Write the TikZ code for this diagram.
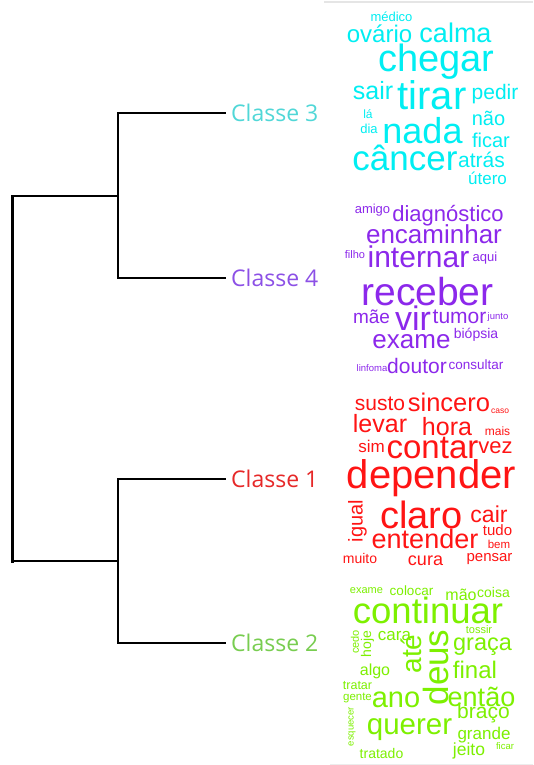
\documentclass[tikz,border=0pt]{standalone}
\usepackage{fontspec}
\setmainfont{Liberation Sans}
\newfontfamily\osans{Open Sans}
\definecolor{cyw}{RGB}{0,238,242}
\definecolor{puw}{RGB}{140,40,235}
\definecolor{rdw}{RGB}{255,20,20}
\definecolor{grw}{RGB}{125,240,0}
\definecolor{cyl}{RGB}{80,215,215}
\definecolor{pul}{RGB}{140,80,230}
\definecolor{rdl}{RGB}{230,40,40}
\definecolor{grl}{RGB}{120,205,80}
\tikzset{
  wc/.style={font=\fontsize{#1}{#1}\selectfont, inner sep=0pt, anchor=base},
  rw/.style={font=\fontsize{#1}{#1}\selectfont, inner sep=0pt, anchor=center, rotate=90},
  lab/.style={font=\osans\fontsize{23}{23}\selectfont, inner sep=0pt, anchor=west},
  br/.style={line width=2pt, line join=miter, line cap=rect},
}
\begin{document}
\begin{tikzpicture}[x=1pt,y=-1pt]
\useasboundingbox (0,0) rectangle (533,765);
\fill[white] (0,0) rectangle (533,765);
% faint frame of the cloud panel
\draw[gray!20, line width=1.2pt] (324,2) -- (533,2);
\draw[gray!15, line width=1pt] (330,764) -- (533,764);

% dendrogram
\coordinate (rt) at (12,196);
\coordinate (rb) at (12,561);
\coordinate (j34) at (118,196);
\coordinate (j12) at (118,561);
\coordinate (t3) at (118,113);
\coordinate (t4) at (118,278);
\coordinate (t1) at (118,479);
\coordinate (t2) at (118,643);
\coordinate (e3) at (225,113);
\coordinate (e4) at (225,278);
\coordinate (e1) at (225,479);
\coordinate (e2) at (225,643);
\draw[line width=3pt, line cap=rect] (rt) -- (rb);
\draw[br] (rt) -- (j34);
\draw[br] (rb) -- (j12);
\draw[br] (e3) -- (t3) -- (t4) -- (e4);
\draw[br] (e1) -- (t1) -- (t2) -- (e2);
\node[lab, text=cyl] (L3) at (231,113) {Classe 3};
\node[lab, text=pul] (L4) at (231,278) {Classe 4};
\node[lab, text=rdl] (L1) at (231,479) {Classe 1};
\node[lab, text=grl] (L2) at (231,643) {Classe 2};

% Classe 3 cloud
\begin{scope}[text=cyw]
\node[wc=13] (c1) at (391.5,22) {médico};
\node[wc=24] (c2) at (379.5,43) {ovário};
\node[wc=27] (c3) at (455.5,43) {calma};
\node[wc=38] (c4) at (436.5,72) {chegar};
\node[wc=25] (c5) at (373,100) {sair};
\node[wc=40] (c6) at (432,110) {tirar};
\node[wc=21] (c7) at (495,100) {pedir};
\node[wc=12] (c8) at (368,118) {lá};
\node[wc=20] (c9) at (488.5,125) {não};
\node[wc=13] (c10) at (369,134) {dia};
\node[wc=36] (c11) at (422.5,143) {nada};
\node[wc=20] (c12) at (491,147) {ficar};
\node[wc=35] (c13) at (405,170) {câncer};
\node[wc=21] (c14) at (481.5,167) {atrás};
\node[wc=17] (c15) at (487.5,184) {útero};
\end{scope}

% Classe 4 cloud
\begin{scope}[text=puw]
\node[wc=13] (p1) at (372.5,213) {amigo};
\node[wc=22] (p2) at (448,221) {diagnóstico};
\node[wc=26] (p3) at (434,243) {encaminhar};
\node[wc=11] (p4) at (355,258) {filho};
\node[wc=30] (p5) at (418.5,267) {internar};
\node[wc=13] (p6) at (485,261) {aqui};
\node[wc=39] (p7) at (427.5,305) {receber};
\node[wc=19] (p8) at (371.5,323) {mãe};
\node[wc=34] (p9) at (413,330) {vir};
\node[wc=21] (p10) at (459.5,323) {tumor};
\node[wc=9.5] (p11) at (498,319) {junto};
\node[wc=26] (p12) at (411.5,348) {exame};
\node[wc=14] (p13) at (476,338) {biópsia};
\node[wc=9.5] (p14) at (372,371) {linfoma};
\node[wc=21] (p15) at (417,373) {doutor};
\node[wc=13.5] (p16) at (476,369) {consultar};
\end{scope}

% Classe 1 cloud
\begin{scope}[text=rdw]
\node[wc=21] (r1) at (380,410) {susto};
\node[wc=25.5] (r2) at (449,411) {sincero};
\node[wc=8.5] (r3) at (500,413) {caso};
\node[wc=25] (r4) at (380,432) {levar};
\node[wc=25] (r5) at (447,435) {hora};
\node[wc=12] (r6) at (497.5,435) {mais};
\node[wc=17] (r7) at (371.5,452) {sim};
\node[wc=33] (r8) at (432.5,458) {contar};
\node[wc=22] (r9) at (495.5,453) {vez};
\node[wc=40] (r10) at (431.5,488) {depender};
\node[rw=20] (r11) at (357.5,521) {igual};
\node[wc=38] (r12) at (421.5,528) {claro};
\node[wc=23] (r13) at (489,522) {cair};
\node[wc=15] (r14) at (497.5,535) {tudo};
\node[wc=27] (r15) at (425,548) {entender};
\node[wc=11.5] (r16) at (499,548) {bem};
\node[wc=14] (r17) at (360,563) {muito};
\node[wc=18] (r18) at (425.5,565) {cura};
\node[wc=15] (r19) at (489.5,561) {pensar};
\end{scope}

% Classe 2 cloud
\begin{scope}[text=grw]
\node[wc=11] (g1) at (366.5,593) {exame};
\node[wc=13.5] (g2) at (411.5,595) {colocar};
\node[wc=16] (g3) at (461,600) {mão};
\node[wc=14] (g4) at (493.5,597) {coisa};
\node[wc=36.5] (g5) at (428,623) {continuar};
\node[rw=11] (g6) at (355,642) {cedo};
\node[rw=14] (g7) at (367.5,644) {hoje};
\node[wc=17] (g8) at (394.5,640) {cara};
\node[rw=28] (g9) at (411,654) {até};
\node[rw=35] (g10) at (435.5,667.5) {deus};
\node[wc=11] (g11) at (479,633) {tossir};
\node[wc=23.5] (g12) at (482.5,650) {graça};
\node[wc=16] (g13) at (375,675) {algo};
\node[wc=24] (g14) at (475,678) {final};
\node[wc=12.5] (g15) at (357.5,689) {tratar};
\node[wc=11.5] (g16) at (357.5,700) {gente};
\node[wc=29] (g17) at (396,707) {ano};
\node[wc=27] (g18) at (481.5,706) {então};
\node[wc=21] (g19) at (483.5,718) {braço};
\node[rw=9.5] (g20) at (352,726.5) {esquecer};
\node[wc=29.5] (g21) at (409.5,734) {querer};
\node[wc=17] (g22) at (484,739) {grande};
\node[wc=14] (g23) at (381.5,758) {tratado};
\node[wc=17.5] (g24) at (469,755) {jeito};
\node[wc=9.5] (g25) at (505,749) {ficar};
\end{scope}
\end{tikzpicture}
\end{document}
